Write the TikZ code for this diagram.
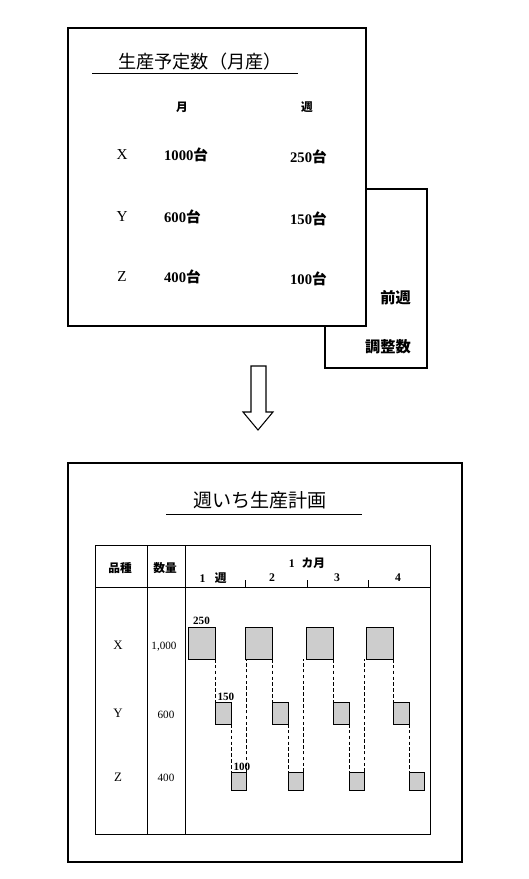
\documentclass[tikz,border=0pt]{standalone}
\usepackage{fontspec}
\setmainfont{Liberation Serif}
\newfontfamily\jp{Noto Sans CJK JP}
\usetikzlibrary{positioning}
\definecolor{bargray}{RGB}{205,205,205}

\tikzset{
    panel/.style={draw, line width=0.9pt},
    rule/.style={line width=0.8pt},
    bar/.style={draw, fill=bargray, line width=0.7pt, anchor=north west,
        inner sep=0pt, outer sep=0pt},
    link/.style={line width=0.7pt, dash pattern=on 3pt off 2pt},
    cell/.style={font=\fontsize{10}{12}\selectfont\bfseries},
    val/.style={font=\fontsize{9.5}{11}\selectfont},
    tag/.style={font=\fontsize{9.5}{11}\selectfont\bfseries, inner sep=1pt}
}

\begin{document}
\begin{tikzpicture}[x=0.03cm, y=-0.03cm]
    \useasboundingbox (0,0) rectangle (528,879);

    \draw[panel] (325,189) rectangle (427,368);
    \draw[panel, fill=white] (68,28) rectangle (366,326);
    \node (plantitle) at (200,62) {\fontsize{15.5}{18}\selectfont\jp 生産予定数（月産）};
    \draw[rule] (92,73) -- (298,73);

    \node[font=\fontsize{10}{12}\selectfont\jp\bfseries] (hmonth) at (182,107) {月};
    \node[font=\fontsize{10}{12}\selectfont\jp\bfseries] (hweek) at (307,107) {週};
    \foreach \r/\m/\w/\yy in {X/1000/250/155, Y/600/150/217, Z/400/100/277}{
        \node[font=\fontsize{13}{15}\selectfont] (item\r) at (122,\yy) {\r};
        \node[anchor=west, font=\fontsize{12.5}{15}\selectfont\bfseries] (mon\r) at (160,\yy) {\m{\jp 台}};
        \node[anchor=west, font=\fontsize{12.5}{15}\selectfont\bfseries] (wk\r) at (286,\yy+2) {\w{\jp 台}};
    }
    \node[anchor=east, font=\fontsize{13}{15}\selectfont\jp\bfseries] (prevweek) at (415,298) {前週};
    \node[anchor=east, font=\fontsize{13}{15}\selectfont\jp\bfseries] (adjust) at (415,347) {調整数};

    \draw[panel, fill=white] (251,366) -- (251,412) -- (243,412) -- (258,430)
        -- (273,412) -- (266,412) -- (266,366) -- cycle;

    \draw[panel] (68,463) rectangle (462,862);
    \node (weektitle) at (260,500) {\fontsize{16.3}{19}\selectfont\jp 週いち生産計画};
    \draw[rule] (166,514) -- (362,514);

    \draw[rule] (95,545) rectangle (430,834);
    \draw[rule] (147,545) -- (147,834);
    \draw[rule] (185,545) -- (185,834);
    \draw[rule] (95,587) -- (430,587);
    \foreach \t in {245,307,368}
        \draw[rule] (\t,580) -- (\t,587);

    \node[cell] (hkind) at (120,568) {\jp 品種};
    \node[cell] (hqty) at (165,568) {\jp 数量};
    \node[cell] (hmon) at (307,563) {1\hspace{0.6em}{\jp カ月}};
    \node[cell] (hw1) at (213,578) {1\hspace{0.8em}{\jp 週}};
    \node[cell] (hw2) at (272,578) {2};
    \node[cell] (hw3) at (337,578) {3};
    \node[cell] (hw4) at (398,578) {4};

    \node[font=\fontsize{11}{13}\selectfont] (rowX) at (118,645) {X};
    \node[font=\fontsize{11}{13}\selectfont] (rowY) at (118,713) {Y};
    \node[font=\fontsize{11}{13}\selectfont] (rowZ) at (118,777) {Z};
    \node[val] (qtyX) at (164,647) {1,000};
    \node[val] (qtyY) at (166,715) {600};
    \node[val] (qtyZ) at (166,778) {400};

    \foreach \k/\xo in {1/188,2/245,3/306,4/366}{
        \node[bar, minimum width=27*0.03cm, minimum height=32*0.03cm] (x\k) at (\xo,627) {};
        \node[bar, minimum width=16*0.03cm, minimum height=22*0.03cm] (y\k) at (\xo+27,702) {};
        \node[bar, minimum width=15*0.03cm, minimum height=18*0.03cm] (z\k) at (\xo+43,772) {};
        \draw[link] (x\k.south east) -- (y\k.north west);
        \draw[link] (y\k.south east) -- (z\k.north west);
    }
    \foreach \k/\n in {1/2,2/3,3/4}
        \draw[link] (z\k.north east) -- (z\k.north east |- x\n.south);

    \node[tag, above=1pt of x1] (q250) {250};
    \node[tag, anchor=south west] (q150) at ([xshift=1pt]y1.north west) {150};
    \node[tag, anchor=south west] (q100) at ([xshift=1pt]z1.north west) {100};
\end{tikzpicture}
\end{document}
